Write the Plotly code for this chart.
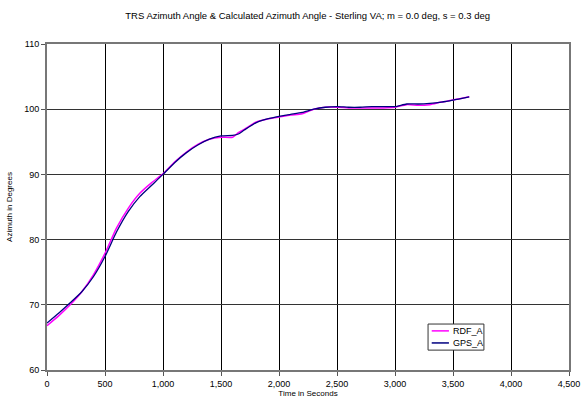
import plotly.graph_objects as go

time_s = [0, 100, 200, 300, 400, 500, 600, 700, 800, 900, 1000, 1100, 1200, 1300,
          1400, 1500, 1600, 1650, 1700, 1800, 1900, 2000, 2100, 2200, 2300, 2400,
          2500, 2600, 2700, 2800, 2900, 3000, 3100, 3200, 3300, 3400, 3500, 3640]
rdf_a = [66.8, 68.3, 70.0, 72.0, 74.6, 77.9, 81.8, 84.8, 87.1, 88.7, 90.1, 91.9, 93.4, 94.6,
         95.4, 95.7, 95.7, 96.4, 96.9, 98.0, 98.5, 98.8, 99.1, 99.3, 100.0, 100.3,
         100.3, 100.2, 100.2, 100.2, 100.2, 100.3, 100.7, 100.6, 100.7, 101.1, 101.4, 101.9]
gps_a = [67.2, 68.7, 70.3, 72.0, 74.3, 77.4, 81.2, 84.3, 86.6, 88.3, 90.0, 91.8, 93.3, 94.5,
         95.4, 95.9, 96.0, 96.2, 96.8, 97.9, 98.5, 98.9, 99.2, 99.5, 100.0, 100.3,
         100.4, 100.3, 100.3, 100.4, 100.4, 100.4, 100.8, 100.8, 100.9, 101.1, 101.4, 101.9]
series_names = ["RDF_A", "GPS_A"]
series_colors = ["#FF00FF", "#000080"]

fig = go.Figure()
for name, ys, col, w in zip(series_names, [rdf_a, gps_a], series_colors, [1.5, 1.3]):
    fig.add_trace(go.Scatter(x=time_s, y=ys, mode="lines", name=name,
                             line=dict(color=col, width=w, shape="spline", smoothing=0.6)))

font = "Arial, Liberation Sans, sans-serif"
fig.update_layout(
    width=586, height=400,
    margin=dict(l=47, r=17, t=44, b=30, autoexpand=False),
    paper_bgcolor="white", plot_bgcolor="white",
    font=dict(family=font, size=9, color="black"),
    title=dict(text="TRS Azimuth Angle & Calculated Azimuth Angle - Sterling VA; m = 0.0 deg, s = 0.3 deg",
               x=0.525, xanchor="center", y=0.962, yanchor="middle",
               font=dict(family=font, size=9.5, color="black")),
    showlegend=False,
)

# compact legend box drawn in plot-area coordinates
lx0, lx1, ly0, ly1 = 0.730, 0.837, 0.061, 0.141
fig.add_shape(type="rect", xref="x domain", yref="y domain", x0=lx0, x1=lx1, y0=ly0, y1=ly1,
              line=dict(color="#333333", width=1), fillcolor="white", layer="above")
for i, (name, col) in enumerate(zip(series_names, series_colors)):
    yy = 0.120 - i * 0.037
    fig.add_shape(type="line", xref="x domain", yref="y domain", x0=0.737, x1=0.770,
                  y0=yy, y1=yy, line=dict(color=col, width=1.5), layer="above")
    fig.add_annotation(xref="x domain", yref="y domain", x=0.773, y=yy, text=name,
                       showarrow=False, xanchor="left", yanchor="middle",
                       font=dict(family=font, size=9, color="black"))

fig.update_xaxes(range=[0, 4500], dtick=500, tickformat=",d", automargin=False,
                 showgrid=True, gridcolor="black", gridwidth=1,
                 showline=True, linecolor="#777777", linewidth=2, mirror=True,
                 ticks="outside", ticklen=4, tickcolor="#555555",
                 zeroline=False,
                 title=dict(text="Time in Seconds", font=dict(size=8), standoff=3),
                 tickfont=dict(size=9))
fig.update_yaxes(range=[60, 110], dtick=10, automargin=False,
                 showgrid=True, gridcolor="#333333", gridwidth=1,
                 showline=True, linecolor="#777777", linewidth=2, mirror=True,
                 ticks="outside", ticklen=4, tickcolor="#555555",
                 zeroline=False,
                 title=dict(text="Azimuth in Degrees", font=dict(size=8), standoff=10),
                 tickfont=dict(size=9))

fig.write_html("out.html")
